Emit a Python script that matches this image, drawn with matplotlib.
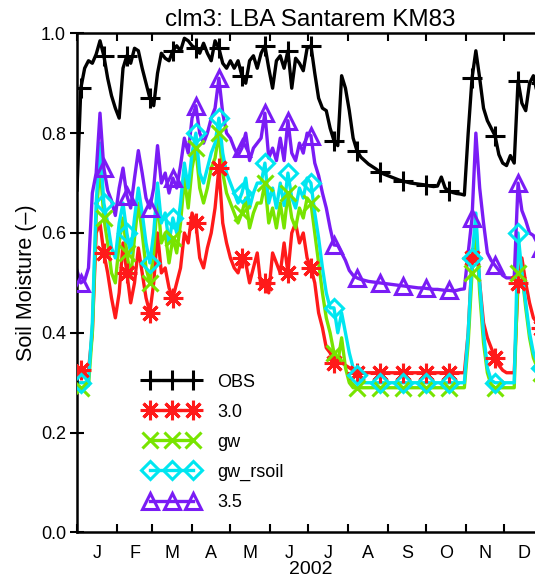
import numpy as np
import pandas as pd
import matplotlib
matplotlib.use("Agg")
import matplotlib.pyplot as plt

# === DATA (3-day sampling) ===
start = pd.Timestamp("2002-01-01")
day = np.arange(0, 366, 3)

obs = [0.686, 0.89, 0.93, 0.945, 0.94, 0.958, 0.985, 0.955, 0.91, 0.875,
       0.85, 0.83, 0.93, 0.955, 0.94, 0.97, 0.965, 0.93, 0.90, 0.87,
       0.855, 0.92, 0.96, 0.95, 0.945, 0.965, 0.975, 0.965, 0.99, 0.985,
       0.975, 0.97, 0.96, 0.98, 0.96, 0.945, 0.985, 0.97, 0.94, 0.93,
       0.945, 0.93, 0.945, 0.915, 0.90, 0.945, 0.955, 0.93, 0.96, 0.975,
       0.93, 0.89, 0.945, 0.955, 0.93, 0.965, 0.89, 0.95, 0.94, 0.925,
       0.97, 0.975, 0.92, 0.87, 0.85, 0.845, 0.81, 0.785, 0.775, 0.915,
       0.89, 0.845, 0.79, 0.765, 0.752, 0.745, 0.738, 0.733, 0.728, 0.722,
       0.718, 0.715, 0.712, 0.709, 0.706, 0.704, 0.702, 0.700, 0.699, 0.698,
       0.697, 0.696, 0.694, 0.693, 0.694, 0.712, 0.69, 0.684, 0.681, 0.679,
       0.678, 0.676, 0.80, 0.91, 0.965, 0.91, 0.85, 0.825, 0.81, 0.795,
       0.757, 0.74, 0.735, 0.755, 0.74, 0.905, 0.86, 0.845, 0.90, 0.915,
       0.88, 0.90]

clm30 = [0.33, 0.325, 0.322, 0.325, 0.40, 0.60, 0.62, 0.56, 0.52, 0.47,
         0.43, 0.48, 0.58, 0.52, 0.46, 0.50, 0.57, 0.52, 0.47, 0.44,
         0.50, 0.60, 0.52, 0.53, 0.49, 0.47, 0.50, 0.53, 0.60, 0.58,
         0.64, 0.62, 0.55, 0.53, 0.57, 0.60, 0.65, 0.73, 0.62, 0.58,
         0.55, 0.53, 0.52, 0.55, 0.54, 0.50, 0.53, 0.56, 0.49, 0.50,
         0.48, 0.56, 0.54, 0.52, 0.58, 0.52, 0.60, 0.62, 0.58, 0.60,
         0.55, 0.53, 0.50, 0.44, 0.41, 0.37, 0.36, 0.34, 0.35, 0.34,
         0.335, 0.33, 0.325, 0.32, 0.32, 0.32, 0.32, 0.32, 0.32, 0.32,
         0.32, 0.32, 0.32, 0.32, 0.32, 0.32, 0.32, 0.32, 0.32, 0.32,
         0.32, 0.32, 0.32, 0.32, 0.32, 0.32, 0.32, 0.32, 0.32, 0.32,
         0.32, 0.32, 0.40, 0.55, 0.60, 0.50, 0.42, 0.39, 0.37, 0.35,
         0.335, 0.325, 0.32, 0.32, 0.32, 0.50, 0.55, 0.50, 0.46, 0.43,
         0.42, 0.41]

gw = [0.295, 0.29, 0.29, 0.295, 0.40, 0.63, 0.74, 0.63, 0.58, 0.52,
      0.50, 0.58, 0.63, 0.56, 0.51, 0.59, 0.66, 0.60, 0.53, 0.50,
      0.56, 0.67, 0.58, 0.60, 0.54, 0.59, 0.56, 0.62, 0.71, 0.65,
      0.73, 0.77, 0.69, 0.66, 0.69, 0.73, 0.75, 0.80, 0.72, 0.68,
      0.66, 0.64, 0.62, 0.64, 0.67, 0.61, 0.64, 0.66, 0.66, 0.70,
      0.62, 0.65, 0.61, 0.66, 0.61, 0.68, 0.63, 0.61, 0.65, 0.63,
      0.67, 0.66, 0.60, 0.54, 0.48, 0.43, 0.40, 0.36, 0.34, 0.39,
      0.33, 0.30, 0.29, 0.29, 0.29, 0.29, 0.29, 0.29, 0.29, 0.29,
      0.29, 0.29, 0.29, 0.29, 0.29, 0.29, 0.29, 0.29, 0.29, 0.29,
      0.29, 0.29, 0.29, 0.29, 0.29, 0.29, 0.29, 0.29, 0.29, 0.29,
      0.29, 0.29, 0.38, 0.52, 0.62, 0.48, 0.38, 0.32, 0.295, 0.29,
      0.29, 0.29, 0.29, 0.29, 0.29, 0.52, 0.52, 0.45, 0.39, 0.35,
      0.33, 0.32]

gw_rsoil = [0.30, 0.30, 0.30, 0.305, 0.42, 0.66, 0.78, 0.66, 0.62, 0.57,
            0.55, 0.62, 0.66, 0.60, 0.56, 0.63, 0.69, 0.64, 0.58, 0.54,
            0.60, 0.70, 0.62, 0.64, 0.58, 0.63, 0.60, 0.66, 0.74, 0.69,
            0.76, 0.80, 0.72, 0.70, 0.73, 0.76, 0.78, 0.83, 0.76, 0.72,
            0.70, 0.68, 0.66, 0.68, 0.71, 0.65, 0.68, 0.70, 0.70, 0.74,
            0.66, 0.69, 0.65, 0.70, 0.655, 0.72, 0.67, 0.65, 0.69, 0.67,
            0.71, 0.70, 0.64, 0.59, 0.53, 0.48, 0.45, 0.45, 0.40, 0.44,
            0.40, 0.36, 0.33, 0.315, 0.305, 0.30, 0.30, 0.30, 0.30, 0.30,
            0.30, 0.30, 0.30, 0.30, 0.30, 0.30, 0.30, 0.30, 0.30, 0.30,
            0.30, 0.30, 0.30, 0.30, 0.30, 0.30, 0.30, 0.30, 0.30, 0.30,
            0.30, 0.30, 0.40, 0.55, 0.64, 0.50, 0.40, 0.33, 0.305, 0.30,
            0.30, 0.30, 0.30, 0.30, 0.30, 0.60, 0.52, 0.46, 0.40, 0.36,
            0.34, 0.33]

clm35 = [0.525, 0.50, 0.505, 0.53, 0.68, 0.72, 0.84, 0.73, 0.685, 0.665,
         0.635, 0.69, 0.73, 0.675, 0.65, 0.71, 0.765, 0.72, 0.67, 0.65,
         0.69, 0.775, 0.70, 0.72, 0.68, 0.71, 0.69, 0.735, 0.79, 0.76,
         0.83, 0.855, 0.80, 0.78, 0.80, 0.83, 0.85, 0.91, 0.84, 0.80,
         0.79, 0.77, 0.755, 0.77, 0.80, 0.745, 0.77, 0.78, 0.79, 0.84,
         0.75, 0.77, 0.745, 0.79, 0.745, 0.825, 0.76, 0.745, 0.78, 0.76,
         0.80, 0.795, 0.74, 0.715, 0.68, 0.65, 0.61, 0.576, 0.575, 0.56,
         0.545, 0.525, 0.515, 0.51, 0.507, 0.505, 0.503, 0.502, 0.501, 0.50,
         0.499, 0.498, 0.497, 0.496, 0.495, 0.494, 0.493, 0.492, 0.491, 0.49,
         0.49, 0.489, 0.488, 0.487, 0.487, 0.486, 0.485, 0.485, 0.484, 0.485,
         0.487, 0.488, 0.56, 0.63, 0.80, 0.69, 0.62, 0.56, 0.545, 0.535,
         0.525, 0.515, 0.51, 0.51, 0.51, 0.70, 0.645, 0.625, 0.60, 0.595,
         0.58, 0.57]

series = [
    ("OBS", obs, "black", "+", 14),
    ("3.0", clm30, "#ff1a1a", (8, 2, 0), 14),
    ("gw", gw, "#78e400", "x", 11),
    ("gw_rsoil", gw_rsoil, "#00e6f0", "D", 9),
    ("3.5", clm35, "#7a1cf5", "^", 12),
]

plt.rcParams["font.family"] = ["Liberation Sans", "DejaVu Sans"]

fig = plt.figure(figsize=(5.35, 5.8), dpi=100)
# axes run on past the right edge of the picture (December is cut off)
ax = fig.add_axes([0.1439, 0.0819, 0.8722, 0.8607])

marker_days = np.arange(3, 366, 18)
for name, vals, col, mk, ms in series:
    ax.plot(day, vals, color=col, lw=2.4, zorder=2)
    ax.plot(marker_days, np.interp(marker_days, day, vals), ls="none",
            marker=mk, ms=ms, mfc="none", mec=col, mew=2.2, zorder=3)
    # legend proxy
    ax.plot([], [], color=col, lw=2.4, marker=mk, ms=ms, mfc="none",
            mec=col, mew=2.2, label=name)

# month ticks at month starts, letters in the middle of each month
month_starts = pd.date_range("2002-01-01", "2003-01-01", freq="MS")
tick_pos = (month_starts - start).days.values
mid_pos = (tick_pos[:-1] + tick_pos[1:]) / 2
ax.set_xticks(tick_pos)
ax.set_xticklabels([])
ax.set_xticks(mid_pos, minor=True)
ax.set_xticklabels([d.strftime("%b")[0] for d in month_starts[:-1]], minor=True)
ax.tick_params(axis="x", which="major", direction="in", length=6, width=1.5,
               top=True)
ax.tick_params(axis="x", which="minor", length=0, pad=9, labelsize=13)
ax.set_xlim(0, 365)
ax.set_ylim(0, 1.0)
ax.set_yticks(np.arange(0, 1.01, 0.2))
ax.set_yticklabels([f"{v:.1f}" for v in np.arange(0, 1.01, 0.2)])
ax.tick_params(axis="y", direction="inout", length=10, width=1.5, labelsize=13,
               pad=3)
for s in ax.spines.values():
    s.set_linewidth(1.8)

ax.set_xlabel("2002", fontsize=14, labelpad=-1)
ax.set_ylabel("Soil Moisture (\u2013)", fontsize=15.5, labelpad=3)
ax.set_title("clm3: LBA Santarem KM83", fontsize=17.5, pad=5)

ax.legend(loc="upper left", bbox_to_anchor=(0.145, 0.318), frameon=False,
          numpoints=3, handlelength=3.0, handletextpad=1.0, labelspacing=0.72,
          borderpad=0, borderaxespad=0, fontsize=13)

fig.savefig("out.png", dpi=100)
